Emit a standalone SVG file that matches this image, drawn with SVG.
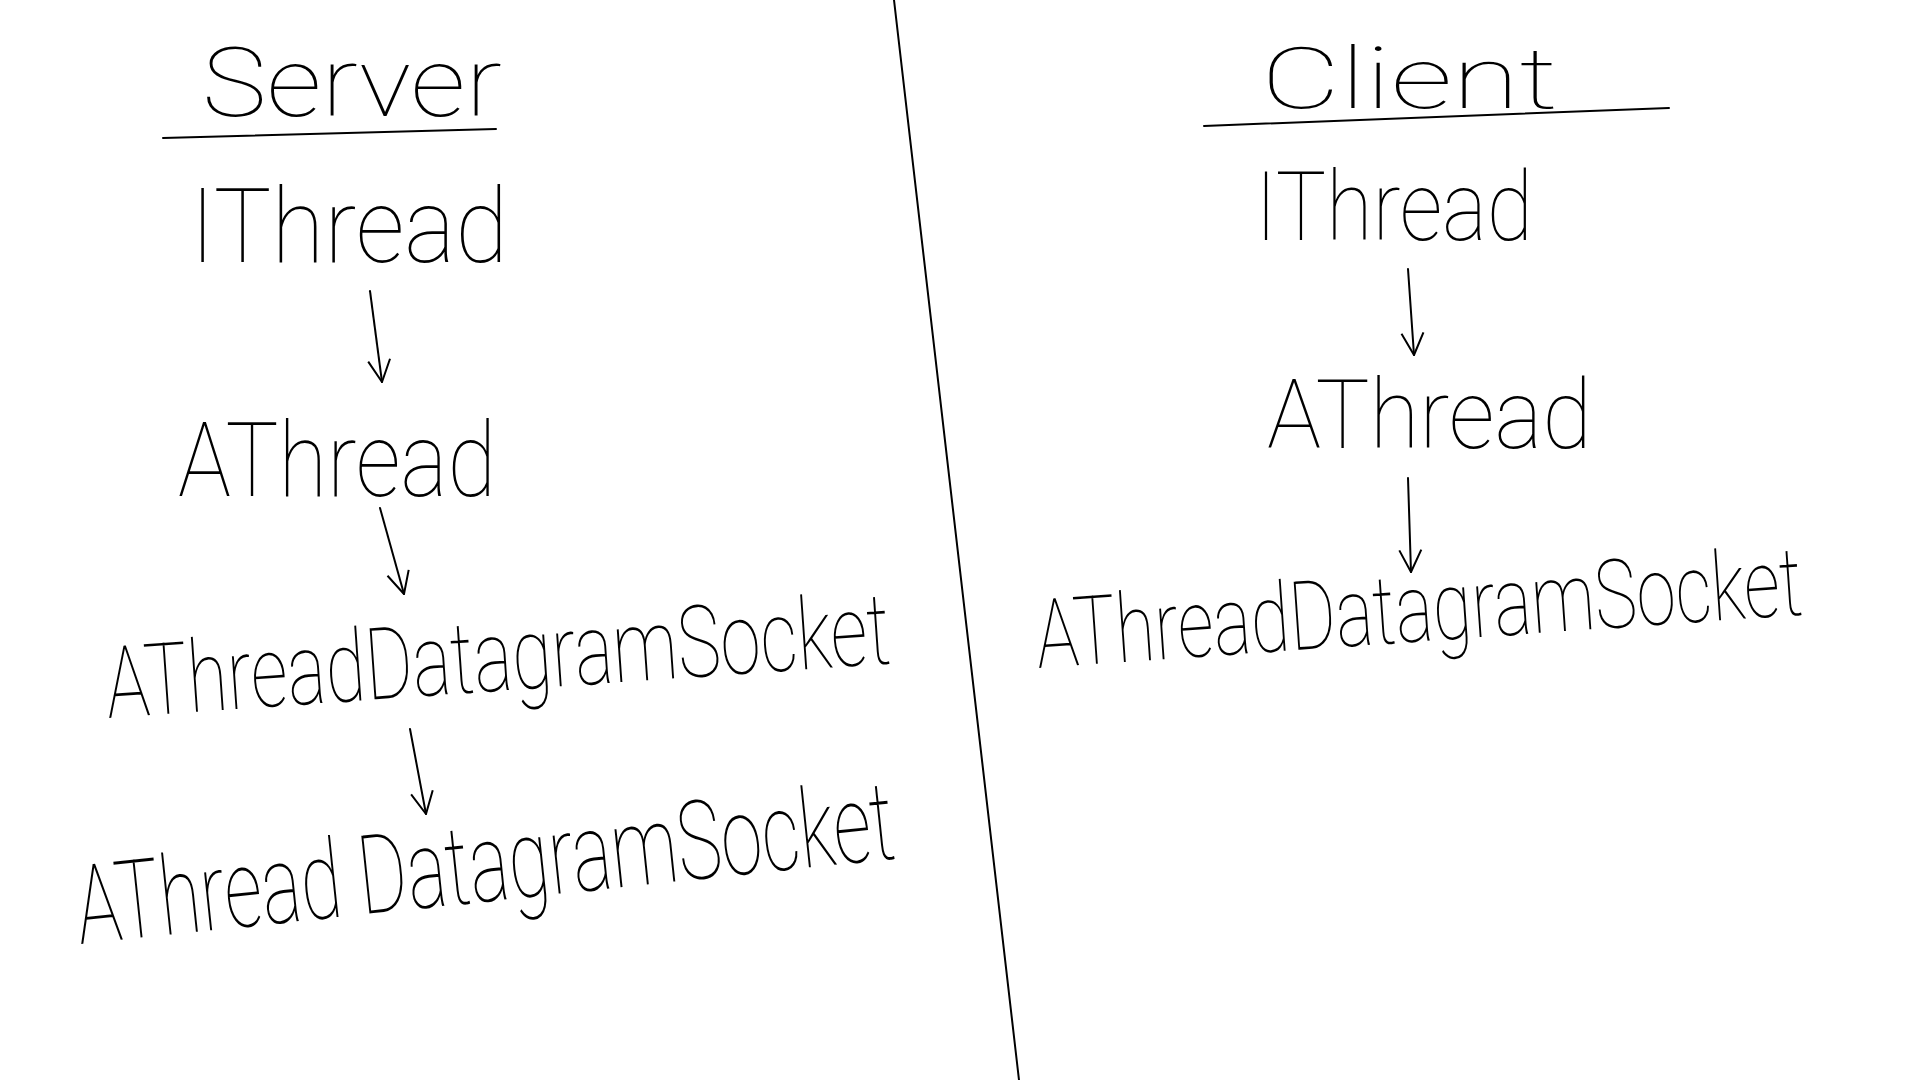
<svg xmlns="http://www.w3.org/2000/svg" width="1920" height="1080" viewBox="0 0 1920 1080">
<style>
.t{font-family:Roboto,"Liberation Sans",sans-serif;font-weight:100;fill:#000;}
.ln{stroke:#000;stroke-width:2;fill:none;stroke-linecap:round;}
</style>
<defs>
<marker id="ah" viewBox="0 0 30 30" refX="26" refY="15" markerWidth="30" markerHeight="30" markerUnits="userSpaceOnUse" orient="auto">
<path d="M4,4 L26,15 L4,26" fill="none" stroke="#000" stroke-width="2" stroke-linejoin="round"/>
</marker>
</defs>
<rect width="1920" height="1080" fill="#fff"/>
<g id="divider"><path class="ln" d="M894,0 L1019,1080"/></g>
<g id="server-title">
<text class="t" x="202" y="116" font-size="96" textLength="300" lengthAdjust="spacingAndGlyphs">Server</text>
<path class="ln" d="M163,138 L496,129"/>
</g>
<g id="server-ithread"><text class="t" x="190" y="262" font-size="104" textLength="318" lengthAdjust="spacingAndGlyphs">IThread</text></g>
<g id="server-athread"><text class="t" x="178" y="496" font-size="104" textLength="318" lengthAdjust="spacingAndGlyphs">AThread</text></g>
<g id="server-atds1"><text class="t" x="108" y="718" font-size="100" textLength="786" lengthAdjust="spacingAndGlyphs" transform="rotate(-4 108 718)">AThreadDatagramSocket</text></g>
<g id="server-atds2"><text class="t" x="80" y="944" font-size="110" textLength="822" lengthAdjust="spacingAndGlyphs" transform="rotate(-6 80 944)">AThread DatagramSocket</text></g>
<g id="client-title">
<text class="t" x="1261" y="108" font-size="86" textLength="297" lengthAdjust="spacingAndGlyphs">Client</text>
<path class="ln" d="M1204,126 L1669,108"/>
</g>
<g id="client-ithread"><text class="t" x="1255" y="240" font-size="96" textLength="278" lengthAdjust="spacingAndGlyphs">IThread</text></g>
<g id="client-athread"><text class="t" x="1267" y="448" font-size="96" textLength="325" lengthAdjust="spacingAndGlyphs">AThread</text></g>
<g id="client-atds"><text class="t" x="1038" y="668" font-size="96" textLength="768" lengthAdjust="spacingAndGlyphs" transform="rotate(-4 1038 668)">AThreadDatagramSocket</text></g>
<g id="connectors">
<path class="ln" d="M370,291 L382,382" marker-end="url(#ah)"/>
<path class="ln" d="M380,508 L404,594" marker-end="url(#ah)"/>
<path class="ln" d="M410,729 L426,814" marker-end="url(#ah)"/>
<path class="ln" d="M1408,269 L1414,355" marker-end="url(#ah)"/>
<path class="ln" d="M1408,478 L1411,572" marker-end="url(#ah)"/>
</g>
</svg>
